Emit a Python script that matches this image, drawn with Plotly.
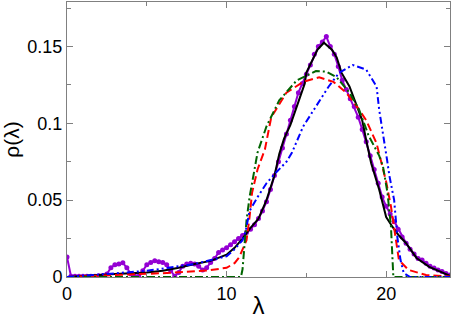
import plotly.graph_objects as go

# Purple noisy data (with markers)
purple_x = [0, 0.25, 0.5, 0.75, 1.0, 1.25, 1.5, 1.75, 2.0, 2.25, 2.5, 2.75, 3.0, 3.25, 3.5, 3.75,
            4.0, 4.25, 4.5, 4.75, 5.0, 5.25, 5.5, 5.75, 6.0, 6.25, 6.5, 6.75, 7.0, 7.25, 7.5, 7.75,
            8.0, 8.25, 8.5, 8.75, 9.0, 9.25, 9.5, 9.75, 10.0, 10.25, 10.5, 10.75, 11.0, 11.25, 11.5,
            11.75, 12.0, 12.25, 12.5, 12.75, 13.0, 13.25, 13.5, 13.75, 14.0, 14.25, 14.5, 14.75,
            15.0, 15.25, 15.5, 15.75, 16.0, 16.25, 16.5, 16.75, 17.0, 17.25, 17.5, 17.75, 18.0,
            18.25, 18.5, 18.75, 19.0, 19.25, 19.5, 19.75, 20.0, 20.25, 20.5, 20.75, 21.0, 21.25,
            21.5, 21.75, 22.0, 22.25, 22.5, 22.75, 23.0, 23.25, 23.5, 23.75, 24.0]
purple_y = [0.013, 0.0005, 0.0005, 0.0005, 0.0005, 0.0005, 0.0005, 0.0005, 0.0008, 0.001, 0.002,
            0.006, 0.008, 0.0085, 0.0092, 0.006, 0.002, 0.0005, 0.0005, 0.004, 0.008, 0.0095,
            0.0105, 0.010, 0.0095, 0.008, 0.004, 0.0005, 0.003, 0.007, 0.0085, 0.009, 0.0085,
            0.007, 0.0045, 0.006, 0.0095, 0.012, 0.016, 0.0176, 0.019, 0.021, 0.023, 0.025, 0.027,
            0.029, 0.031, 0.034, 0.038, 0.043, 0.049, 0.057, 0.066, 0.075, 0.084, 0.093, 0.102,
            0.111, 0.120, 0.126, 0.132, 0.138, 0.145, 0.150, 0.153, 0.1565, 0.150, 0.145, 0.137,
            0.128, 0.122, 0.116, 0.111, 0.104, 0.096, 0.088, 0.079, 0.070, 0.061, 0.052, 0.046,
            0.041, 0.036, 0.031, 0.026, 0.022, 0.018, 0.015, 0.012, 0.011, 0.009, 0.007, 0.0058,
            0.0046, 0.0035, 0.0022, 0.0013]

# Black solid curve
black_x = [0, 1, 2, 3, 4, 5, 6, 7, 8, 9, 10, 10.5, 11, 11.5, 12, 12.5, 13, 13.3, 13.6, 14, 14.5,
           14.9, 15.0, 15.3, 15.7, 16.1, 16.6, 16.9, 17.2, 17.7, 18.1, 18.5, 18.75, 19.06, 19.56,
           20, 20.4, 20.8, 21.25, 21.9, 22.7, 23.3, 24]
black_y = [0, 0.0008, 0.0015, 0.002, 0.0025, 0.003, 0.004, 0.006, 0.0085, 0.0105, 0.0145, 0.019,
           0.025, 0.032, 0.038, 0.050, 0.066, 0.080, 0.090, 0.099, 0.114, 0.126, 0.133, 0.139,
           0.148, 0.1525, 0.148, 0.143, 0.133, 0.124, 0.113, 0.102, 0.089, 0.074, 0.057, 0.039,
           0.0326, 0.027, 0.022, 0.0124, 0.0066, 0.004, 0.0008]

# Red dashed curve
red_x = [0, 2, 4, 6, 8, 9, 10, 10.5, 10.8, 11.25, 11.44, 11.6, 11.94, 12.4, 12.8, 13.75, 14.8,
         15.8, 16.7, 17.5, 18.3, 18.75, 19.4, 19.75, 20.0, 20.3, 20.6, 20.8, 21.4, 22.5, 24]
red_y = [0, 0.0007, 0.0015, 0.0025, 0.0037, 0.0045, 0.006, 0.009, 0.013, 0.024, 0.039, 0.055,
         0.070, 0.083, 0.104, 0.120, 0.127, 0.130, 0.127, 0.120, 0.109, 0.102, 0.087, 0.072,
         0.062, 0.046, 0.024, 0.011, 0.0046, 0.0013, 0.0003]

# Green dash-dot curve
green_x = [0, 10.9, 11.0, 11.1, 11.25, 11.44, 11.75, 11.94, 12.5, 13.3, 14.4, 15.6, 16.25, 16.9,
           17.7, 18.3, 18.9, 19.56, 19.8, 20.08, 20.3, 20.4, 20.45, 24]
green_y = [0, 0, 0.005, 0.02, 0.037, 0.052, 0.070, 0.081, 0.098, 0.115, 0.128, 0.134, 0.1337,
           0.130, 0.120, 0.109, 0.092, 0.079, 0.072, 0.055, 0.033, 0.011, 0, 0]

# Blue dash-dot-dot curve
blue_x = [0, 2, 5, 8, 10, 10.5, 11.0, 11.2, 11.44, 11.94, 12.5, 13.1, 13.75, 14.1, 14.8, 15.6,
          16.4, 17.06, 17.9, 18.75, 19.4, 19.56, 19.8, 20.06, 20.2, 20.5, 20.7, 20.9, 21.1, 21.5, 24]
blue_y = [0, 0.0015, 0.004, 0.0085, 0.0135, 0.018, 0.024, 0.030, 0.043, 0.052, 0.061, 0.068,
          0.075, 0.081, 0.098, 0.111, 0.124, 0.133, 0.138, 0.135, 0.124, 0.109, 0.094, 0.076,
          0.066, 0.050, 0.026, 0.011, 0.0026, 0, 0]

x_ticks = [0, 10, 20]
y_ticks = [0, 0.05, 0.1, 0.15]

fig = go.Figure()
fig.add_trace(go.Scatter(x=purple_x, y=purple_y, mode="lines+markers",
                         line=dict(color="#9400D3", width=2),
                         marker=dict(color="#9400D3", size=5)))
fig.add_trace(go.Scatter(x=black_x, y=black_y, mode="lines",
                         line=dict(color="black", width=2)))
fig.add_trace(go.Scatter(x=red_x, y=red_y, mode="lines",
                         line=dict(color="#FF0000", width=2, dash="8px,4px")))
fig.add_trace(go.Scatter(x=green_x, y=green_y, mode="lines",
                         line=dict(color="#006400", width=2, dash="8px,3px,2px,3px")))
fig.add_trace(go.Scatter(x=blue_x, y=blue_y, mode="lines",
                         line=dict(color="#0000FF", width=2,
                                   dash="7px,3px,2px,3px,2px,3px")))

FONT = "Liberation Sans, Arial, sans-serif"
axis_common = dict(showgrid=False, zeroline=False, showline=True, linecolor="#808080",
                   linewidth=1, mirror="ticks", ticks="inside", tickcolor="#808080",
                   ticklen=6, tickwidth=1, automargin=False,
                   tickfont=dict(family=FONT, size=18, color="black"))

fig.update_xaxes(range=[0, 24], tickvals=x_ticks, ticktext=[str(v) for v in x_ticks],
                 minor=dict(dtick=5, tick0=0, ticks="inside", ticklen=4, tickcolor="#808080"),
                 title=dict(text="λ", font=dict(family=FONT, size=24, color="black"), standoff=0),
                 **axis_common)
fig.update_yaxes(range=[0, 0.179], tickvals=y_ticks, ticktext=["0", "0.05", "0.1", "0.15"],
                 minor=dict(dtick=0.025, tick0=0, ticks="inside", ticklen=4, tickcolor="#808080"),
                 title=dict(text="ρ(λ)", font=dict(family=FONT, size=21, color="black"), standoff=7),
                 **axis_common)

fig.update_layout(width=454, height=319, margin=dict(l=67, r=4, t=2, b=42),
                  paper_bgcolor="white", plot_bgcolor="white", showlegend=False)

fig.write_html("out.html", config={"displayModeBar": False},
               post_script="document.body.style.margin='0';document.body.style.padding='0';")
